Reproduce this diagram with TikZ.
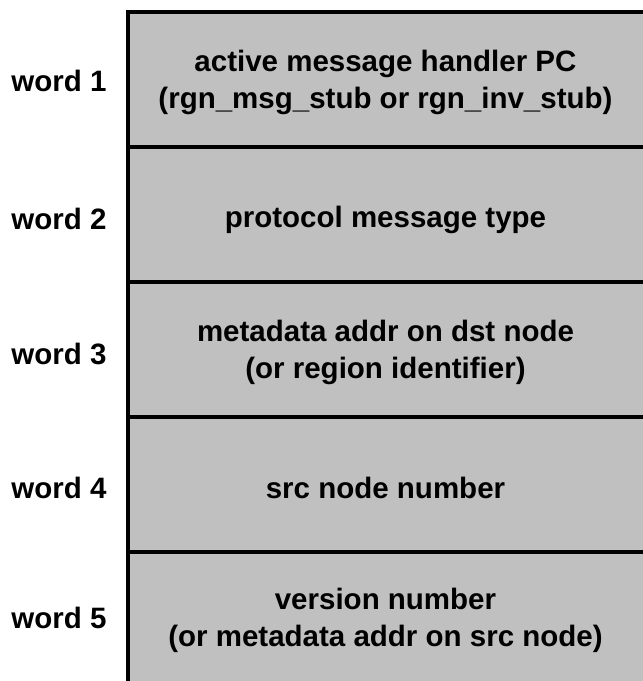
\documentclass[tikz,border=0pt]{standalone}
\usepackage{fontspec}
\setmainfont{Liberation Sans}
\definecolor{cellgray}{HTML}{C0C0C0}
\begin{document}
\begin{tikzpicture}[x=1pt,y=-1pt,
  txt/.style={font=\bfseries\fontsize{29.5}{37}\selectfont, align=center, inner sep=0pt},
  rule/.style={line width=4pt, black}]
\useasboundingbox (0,0) rectangle (643,681);
\fill[cellgray] (128,12) rectangle (643,681);
\draw[rule] (128,12) -- (128,681);
\draw[rule] (126,12) -- (643,12);
\foreach \y in {146.5,281.5,416.5,551.5} \draw[rule] (128,\y) -- (643,\y);
\node[txt] (r1) at (385.5,82) {active message handler PC\\(rgn\_msg\_stub or rgn\_inv\_stub)};
\node[txt] (r2) at (385.5,220) {protocol message type};
\node[txt] (r3) at (385.5,352) {metadata addr on dst node\\(or region identifier)};
\node[txt] (r4) at (385.5,488) {src node number};
\node[txt] (r5) at (385.5,620) {version number\\(or metadata addr on src node)};
\node[txt] (w1) at (59,81) {word 1};
\node[txt] (w2) at (59,219) {word 2};
\node[txt] (w3) at (59,354) {word 3};
\node[txt] (w4) at (59,488) {word 4};
\node[txt] (w5) at (59,618) {word 5};
\end{tikzpicture}
\end{document}
